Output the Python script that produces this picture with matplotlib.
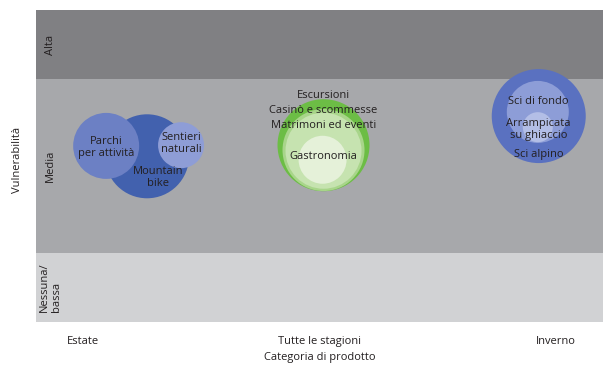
import matplotlib
matplotlib.use("Agg")
import matplotlib.pyplot as plt

plt.rcParams['font.family'] = ['Open Sans', 'DejaVu Sans']

# Categories
categories = ["Estate", "Tutte le stagioni", "Inverno"]
bands = ["Nessuna/\nbassa", "Media", "Alta"]
band_edges = [0, 1, 3.5, 4.5]
band_colors = ["#d1d2d4", "#a7a8ab", "#808083"]

# Bubbles (category position, vulnerability score, bubble radius in px-equivalent units)
bub_x = [0.27, 0.097, 0.414, 1.017, 1.017, 1.017, 1.013, 1.928, 1.924, 1.924]
bub_y = [2.39, 2.54, 2.55, 2.55, 2.48, 2.47, 2.34, 2.97, 3.03, 2.81]
bub_r = [42, 33, 23, 46, 41, 38, 24, 47, 31, 15]
bub_c = ["#4261ae", "#6c80c4", "#8e9dd6",
         "#6cbd45", "#a8d58a", "#c6e3b0", "#e5f1d9",
         "#5a71c0", "#8d9dd7", "#b3bee6"]

# Labels
lab_text = ["Parchi\nper attività", "Sentieri\nnaturali", "Mountain\nbike",
            "Escursioni", "Casinò e scommesse", "Matrimoni ed eventi", "Gastronomia",
            "Sci di fondo", "Arrampicata\nsu ghiaccio", "Sci alpino"]
lab_x = [0.097, 0.414, 0.317, 1.017, 1.017, 1.017, 1.017, 1.928, 1.928, 1.928]
lab_y = [2.51, 2.58, 2.09, 3.26, 3.05, 2.84, 2.38, 3.18, 2.77, 2.42]

FS = 8

fig = plt.figure(figsize=(6.03, 3.68), dpi=100)
ax = fig.add_axes([36/603, 46/368, 567/603, 312/368])
ax.set_xlim(-0.2, 2.2)
ax.set_ylim(band_edges[0], band_edges[-1])

for i in range(len(bands)):
    ax.axhspan(band_edges[i], band_edges[i+1], color=band_colors[i], lw=0, zorder=0)
    ax.text(-0.138, (band_edges[i] + band_edges[i+1]) / 2, bands[i], rotation=90,
            ha='center', va='center', fontsize=FS, color='#231f20',
            multialignment='left', linespacing=1.1)

sizes = [(2 * r * 0.72) ** 2 for r in bub_r]
for x, y, s, c in zip(bub_x, bub_y, sizes, bub_c):
    ax.scatter([x], [y], s=s, color=c, edgecolors='none', zorder=2)

for t, x, y in zip(lab_text, lab_x, lab_y):
    ax.text(x, y, t, ha='center', va='center', fontsize=FS, color='#231f20',
            linespacing=1.12, zorder=3)

ax.set_xticks(range(len(categories)))
ax.set_xticklabels(categories, fontsize=FS, color='#231f20')
ax.set_yticks([])
ax.tick_params(axis='x', length=0, pad=10)
for sp in ax.spines.values():
    sp.set_visible(False)
ax.set_xlabel("Categoria di prodotto", fontsize=FS, color='#231f20', labelpad=4)
fig.text(18/603, 1 - 160/368, "Vulnerabilità", rotation=90, ha='center', va='center',
         fontsize=FS, color='#231f20')

fig.savefig("out.png", dpi=100)
